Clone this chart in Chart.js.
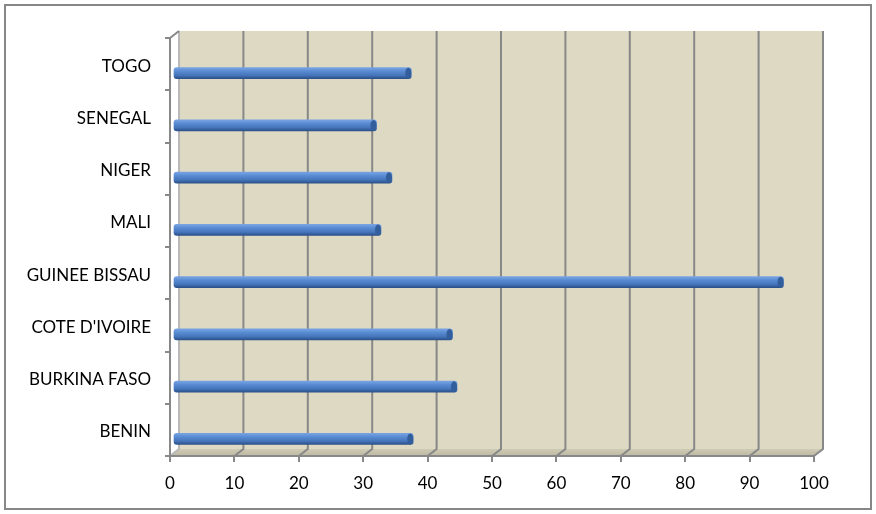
<!DOCTYPE html>
<html>
<head>
<meta charset="utf-8">
<script src="https://cdn.jsdelivr.net/npm/chart.js@4.4.0/dist/chart.umd.min.js"></script>
<style>
  html,body{margin:0;padding:0;background:#fff;}
  #wrap{width:876px;height:514px;}
</style>
</head>
<body>
<div id="wrap"><canvas id="myChart" width="876" height="514"></canvas></div>
<script>
// pays (haut -> bas) et valeurs
var v_pays = ["TOGO","SENEGAL","NIGER","MALI","GUINEE BISSAU","COTE D'IVOIRE","BURKINA FASO","BENIN"];
var v_valeurs = [37.0, 31.6, 34.0, 32.3, 94.8, 43.4, 44.1, 37.3];
var v_min = 0, v_max = 100, v_pas = 10;

var v_prof = {x:9, y:-7};   // decalage 3D du mur du fond
var v_gris = "#888888";

// mur du fond + sol + quadrillage
var f_mur = {
  id:"f_mur",
  beforeDraw:function(chart){
    var ctx = chart.ctx, a = chart.chartArea, sx = chart.scales.x;
    var dx = v_prof.x, dy = v_prof.y;
    ctx.save();
    // mur
    ctx.fillStyle = "#DDD9C3";
    ctx.fillRect(a.left+dx, a.top+dy, a.right-a.left, a.bottom-a.top);
    // sol
    var g = ctx.createLinearGradient(0, a.bottom+dy, 0, a.bottom);
    g.addColorStop(0,"#cfcab4");
    g.addColorStop(1,"#bdb9a3");
    ctx.fillStyle = g;
    ctx.beginPath();
    ctx.moveTo(a.left, a.bottom);
    ctx.lineTo(a.right, a.bottom);
    ctx.lineTo(a.right+dx, a.bottom+dy);
    ctx.lineTo(a.left+dx, a.bottom+dy);
    ctx.closePath();
    ctx.fill();
    // quadrillage
    ctx.lineWidth = 2;
    for(var i=0;i<sx.ticks.length;i++){
      var px = sx.getPixelForValue(sx.ticks[i].value);
      ctx.strokeStyle = (i==0) ? "#b8b8b8" : v_gris;
      ctx.beginPath();
      ctx.moveTo(px+dx, a.top+dy);
      ctx.lineTo(px+dx, a.bottom+dy);
      ctx.lineTo(px, a.bottom);
      ctx.stroke();
    }
    // coin haut gauche
    ctx.strokeStyle = v_gris;
    ctx.beginPath();
    ctx.moveTo(a.left, a.top);
    ctx.lineTo(a.left+dx, a.top+dy);
    ctx.stroke();
    ctx.restore();
  },
  afterDraw:function(chart){
    var ctx = chart.ctx;
    ctx.save();
    ctx.strokeStyle = "#878787";
    ctx.lineWidth = 2;
    ctx.strokeRect(5,5,866,504);
    ctx.restore();
  }
};

// barres en cylindre (degrade par barre)
var f_cylindre = {
  id:"f_cylindre",
  beforeDatasetsDraw:function(chart){
    var ctx = chart.ctx;
    var meta = chart.getDatasetMeta(0);
    for(var i=0;i<meta.data.length;i++){
      var el = meta.data[i];
      var h = el.height;
      var g = ctx.createLinearGradient(0, el.y-h/2, 0, el.y+h/2);
      g.addColorStop(0,"#78a3e2");
      g.addColorStop(0.3,"#5b8dd4");
      g.addColorStop(0.7,"#4575bb");
      g.addColorStop(1,"#2b5189");
      el.options.backgroundColor = g;
    }
    ctx.save();
    ctx.translate(3, 9);
  },
  afterDatasetsDraw:function(chart){
    var ctx = chart.ctx;
    var meta = chart.getDatasetMeta(0);
    for(var i=0;i<meta.data.length;i++){
      var el = meta.data[i];
      var h = el.height;
      ctx.fillStyle = "#335e9c";
      ctx.beginPath();
      ctx.ellipse(el.x-3, el.y, 3, h/2, 0, 0, Math.PI*2);
      ctx.fill();
    }
    ctx.restore();
  }
};

var ctx = document.getElementById("myChart").getContext("2d");
var myChart = new Chart(ctx,{
  type:"bar",
  data:{
    labels:v_pays,
    datasets:[{
      data:v_valeurs,
      // fonction => options propres a chaque barre
      backgroundColor:function(c){ return "#4f81bd"; },
      borderWidth:0,
      borderSkipped:false,
      borderRadius:3,
      barThickness:11
    }]
  },
  options:{
    indexAxis:"y",
    responsive:false,
    animation:false,
    devicePixelRatio:1,
    layout:{padding:{left:10,right:62,top:38,bottom:10}},
    plugins:{legend:{display:false},tooltip:{enabled:false}},
    scales:{
      x:{
        min:v_min, max:v_max,
        afterFit:function(s){ s.height = 48; },
        ticks:{stepSize:v_pas, color:"#000", padding:11, font:{family:"Lato", size:17}},
        grid:{drawOnChartArea:false, drawTicks:true, tickLength:6, color:v_gris, lineWidth:2},
        border:{display:true, color:v_gris, width:2}
      },
      y:{
        afterFit:function(s){ s.width = 160; },
        ticks:{color:"#000", padding:14, labelOffset:2, font:{family:"Lato", size:17}},
        grid:{drawOnChartArea:false, drawTicks:true, tickLength:5, color:v_gris, lineWidth:2},
        border:{display:true, color:v_gris, width:2}
      }
    }
  },
  plugins:[f_mur, f_cylindre]
});
</script>
</body>
</html>
